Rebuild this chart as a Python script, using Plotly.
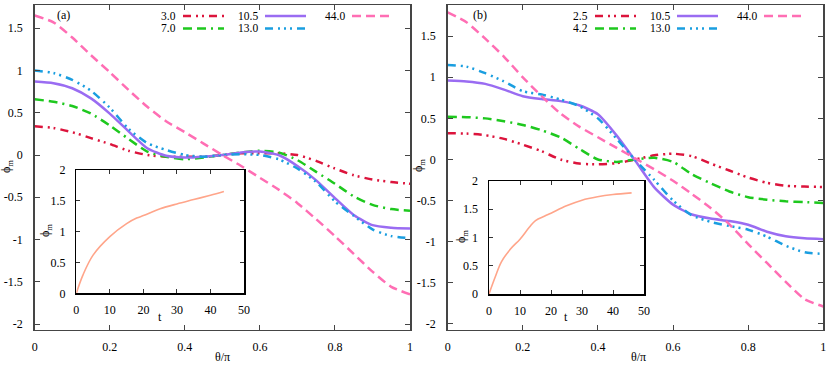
import plotly.graph_objects as go

# ---------------- data ----------------
theta = [0.0, 0.05, 0.1, 0.15, 0.2, 0.25, 0.3, 0.35, 0.4, 0.45, 0.5,
         0.55, 0.6, 0.65, 0.7, 0.75, 0.8, 0.85, 0.9, 0.95, 1.0]

# panel (a)
a_30 = [0.34, 0.32, 0.27, 0.20, 0.13, 0.05, 0.0, -0.02, -0.02, -0.02, 0.0,
        0.02, 0.02, 0.02, 0.0, -0.07, -0.16, -0.24, -0.29, -0.32, -0.34]
a_70 = [0.66, 0.63, 0.58, 0.49, 0.35, 0.19, 0.04, -0.02, -0.05, -0.03, 0.0,
        0.03, 0.05, 0.03, -0.06, -0.20, -0.34, -0.49, -0.59, -0.64, -0.66]
a_105 = [0.87, 0.85, 0.79, 0.67, 0.49, 0.28, 0.08, -0.01, -0.03, -0.02, 0.0,
         0.03, 0.04, 0.0, -0.13, -0.30, -0.51, -0.71, -0.83, -0.86, -0.87]
a_130 = [1.0, 0.97, 0.89, 0.76, 0.56, 0.31, 0.14, 0.06, 0.0, -0.02, 0.0,
         0.01, 0.0, -0.05, -0.16, -0.32, -0.55, -0.72, -0.88, -0.96, -0.985]
a_440 = [1.65, 1.57, 1.39, 1.18, 0.98, 0.77, 0.57, 0.40, 0.27, 0.135, 0.0,
         -0.13, -0.27, -0.41, -0.57, -0.76, -0.96, -1.17, -1.38, -1.56, -1.65]

# panel (b)
b_25 = [0.32, 0.315, 0.295, 0.25, 0.18, 0.10, 0.0, -0.05, -0.06, -0.045, 0.0,
        0.05, 0.07, 0.04, -0.05, -0.135, -0.22, -0.285, -0.32, -0.33, -0.335]
b_42 = [0.52, 0.515, 0.50, 0.465, 0.42, 0.355, 0.27, 0.13, 0.0, -0.03, 0.0,
        0.02, -0.03, -0.18, -0.29, -0.39, -0.46, -0.49, -0.51, -0.52, -0.53]
b_105 = [0.96, 0.95, 0.92, 0.85, 0.77, 0.735, 0.71, 0.66, 0.55, 0.29, -0.02,
         -0.34, -0.55, -0.67, -0.72, -0.75, -0.795, -0.88, -0.935, -0.96, -0.97]
b_130 = [1.15, 1.13, 1.05, 0.95, 0.83, 0.79, 0.73, 0.65, 0.50, 0.25, -0.01,
         -0.25, -0.50, -0.68, -0.76, -0.81, -0.855, -0.94, -1.05, -1.13, -1.15]
b_440 = [1.79, 1.67, 1.47, 1.25, 1.0, 0.77, 0.56, 0.40, 0.27, 0.14, 0.01,
         -0.12, -0.26, -0.42, -0.59, -0.79, -1.03, -1.26, -1.49, -1.70, -1.79]

# insets: phi_m vs t
ta = [0, 2, 5, 10, 15, 18, 20, 25, 30, 35, 40, 44]
pa = [0.0, 0.3, 0.62, 0.92, 1.13, 1.22, 1.26, 1.37, 1.45, 1.52, 1.59, 1.65]
tb = [0, 2, 4, 7, 10, 13, 15, 18, 20, 25, 30, 35, 40, 46]
pb = [0.0, 0.3, 0.57, 0.8, 0.97, 1.18, 1.3, 1.38, 1.43, 1.56, 1.66, 1.72, 1.76, 1.79]

labels_a = ["3.0", "7.0", "10.5", "13.0", "44.0"]
labels_b = ["2.5", "4.2", "10.5", "13.0", "44.0"]
x_ticks = [0, 0.2, 0.4, 0.6, 0.8, 1]
x_ticktext = ["0", "0.2", "0.4", "0.6", "0.8", "1"]
y_ticks = [-2, -1.5, -1, -0.5, 0, 0.5, 1, 1.5]
y_ticktext = ["-2", "-1.5", "-1", "-0.5", "0", "0.5", "1", "1.5"]
t_ticks = [0, 10, 20, 30, 40, 50]
p_ticks = [0, 0.5, 1, 1.5, 2]
p_ticktext = ["0", "0.5", "1", "1.5", "2"]

# ---------------- styles ----------------
W, H = 830, 365
colors = ["#dc143c", "#1ec81e", "#9a6cf2", "#1a9ee0", "#ff6eb4"]
dashes = ["8px,5px,2px,4px,2px,5px",
          "9px,5px,9px,5px,2px,5px",
          "solid",
          "8px,5px,2px,4px,2px,4px,2px,5px",
          "9px,5px"]
FONT = "Liberation Serif, Times New Roman, DejaVu Serif, serif"

def fx(p):
    return p / W

def fy(p):
    return 1 - p / H

fig = go.Figure()

for vals, lab, c, d in zip([a_30, a_70, a_105, a_130, a_440], labels_a, colors, dashes):
    fig.add_trace(go.Scatter(x=theta, y=vals, mode="lines", name=lab,
                             line=dict(color=c, width=2.5, dash=d, shape="spline", smoothing=0.6),
                             xaxis="x", yaxis="y", showlegend=False, hoverinfo="skip"))
for vals, lab, c, d in zip([b_25, b_42, b_105, b_130, b_440], labels_b, colors, dashes):
    fig.add_trace(go.Scatter(x=theta, y=vals, mode="lines", name=lab,
                             line=dict(color=c, width=2.5, dash=d, shape="spline", smoothing=0.6),
                             xaxis="x2", yaxis="y2", showlegend=False, hoverinfo="skip"))

fig.add_trace(go.Scatter(x=ta, y=pa, mode="lines", line=dict(color="#ffa58a", width=1.6, shape="spline"),
                         xaxis="x3", yaxis="y3", showlegend=False, hoverinfo="skip"))
fig.add_trace(go.Scatter(x=tb, y=pb, mode="lines", line=dict(color="#ffa58a", width=1.6, shape="spline"),
                         xaxis="x4", yaxis="y4", showlegend=False, hoverinfo="skip"))

tickfont = dict(family=FONT, size=12, color="black")
main_ax = dict(showline=True, linecolor="#454545", linewidth=1.5, mirror="ticks",
               ticks="inside", ticklen=5, tickwidth=1, tickcolor="#454545",
               showgrid=False, zeroline=False, tickfont=tickfont, automargin=False)
ins_ax = dict(showline=True, linecolor="black", linewidth=1.5, mirror="ticks",
              ticks="inside", ticklen=4, tickwidth=1, tickcolor="#333",
              showgrid=False, zeroline=False, tickfont=tickfont, automargin=False)

layout = dict(
    width=W, height=H, margin=dict(l=0, r=0, t=0, b=0, autoexpand=False),
    paper_bgcolor="white", plot_bgcolor="white", hovermode=False,
    xaxis=dict(main_ax, domain=[fx(34.7), fx(410)], range=[0, 1], anchor="y",
               tickvals=x_ticks, ticktext=x_ticktext, ticklabelstandoff=6),
    yaxis=dict(main_ax, domain=[fy(329.5), fy(5)], range=[-2.065, 1.775], anchor="x",
               tickvals=y_ticks, ticktext=y_ticktext, ticklabelstandoff=8),
    xaxis2=dict(main_ax, domain=[fx(447.7), fx(823.3)], range=[0, 1], anchor="y2",
                tickvals=x_ticks, ticktext=x_ticktext, ticklabelstandoff=6),
    yaxis2=dict(main_ax, domain=[fy(329.5), fy(5)], range=[-2.07, 1.88], anchor="x2",
                tickvals=y_ticks, ticktext=y_ticktext, ticklabelstandoff=8),
    xaxis3=dict(ins_ax, domain=[fx(76.3), fx(244)], range=[0, 50], anchor="y3",
                tickvals=t_ticks, ticklabelstandoff=5),
    yaxis3=dict(ins_ax, domain=[fy(293.3), fy(170)], range=[0, 2], anchor="x3",
                tickvals=p_ticks, ticktext=p_ticktext, ticklabelstandoff=7),
    xaxis4=dict(ins_ax, domain=[fx(489), fx(644)], range=[0, 50], anchor="y4",
                tickvals=t_ticks, ticklabelstandoff=5),
    yaxis4=dict(ins_ax, domain=[fy(294), fy(181)], range=[0, 2], anchor="x4",
                tickvals=p_ticks, ticktext=p_ticktext, ticklabelstandoff=7),
)
fig.update_layout(**layout)

annotations = []
shapes = []

def txt(x, y, s, xanchor="center", angle=0, size=12):
    annotations.append(dict(x=fx(x), y=fy(y), xref="paper", yref="paper", text=s,
                            showarrow=False, xanchor=xanchor, yanchor="middle",
                            textangle=angle, font=dict(family=FONT, size=size, color="black")))

# axis titles
txt(222.5, 357, "θ/π")
txt(638, 357, "θ/π")
txt(7, 167, "ϕ<sub>m</sub>", angle=-90)
txt(419, 166, "ϕ<sub>m</sub>", angle=-90)
txt(46, 231, "ϕ<sub>m</sub>", angle=-90)
txt(462, 237, "ϕ<sub>m</sub>", angle=-90)
txt(160, 317, "t")
txt(566, 317, "t")
# panel labels
txt(63, 15, "(a)")
txt(480, 15, "(b)")

# legends (gnuplot style: text right-aligned, sample to the right)
cols = [(178, 16), (178, 28.5), (260, 16), (260, 28.5), (347, 16)]
for offset, labs in [(0, labels_a), (412, labels_b)]:
    for (xr, yy), lab, c, d in zip(cols, labs, colors, dashes):
        txt(xr + offset, yy, lab, xanchor="right", size=11.5)
        shapes.append(dict(type="line", xref="paper", yref="paper",
                           x0=fx(xr + offset + 5), x1=fx(xr + offset + 46),
                           y0=fy(yy), y1=fy(yy),
                           line=dict(color=c, width=2.5, dash=d)))

fig.update_layout(annotations=annotations, shapes=shapes)
fig.write_html("out.html", config={"displayModeBar": False, "staticPlot": True},
               post_script="document.body.style.margin='0';document.body.style.padding='0';")
